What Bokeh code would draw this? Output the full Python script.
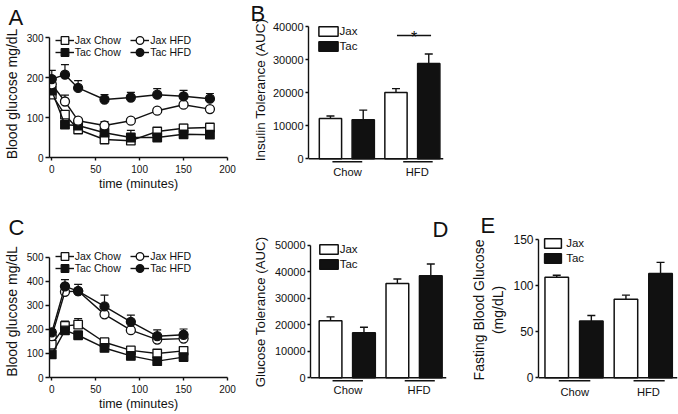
from bokeh.plotting import figure
from bokeh.layouts import column, row
from bokeh.models import (ColumnDataSource, Whisker, TeeHead, Legend, LegendItem,
                          Span, FixedTicker)
from bokeh.core.properties import value
from bokeh.embed import file_html
from bokeh.resources import INLINE

FONT = "Liberation Sans"
INK = "#111111"

# ---------------- data ----------------
# Panel A: insulin tolerance test, blood glucose (mg/dL)
itt_time = [0, 15, 30, 60, 90, 120, 150, 180]
itt_jax_chow = [157, 107, 70, 45, 42, 65, 73, 75]
itt_jax_chow_err = [5, 8, 5, 5, 5, 5, 10, 6]
itt_tac_chow = [167, 82, 80, 62, 50, 50, 58, 57]
itt_tac_chow_err = [8, 6, 6, 6, 18, 6, 5, 5]
itt_jax_hfd = [183, 140, 92, 80, 92, 117, 132, 121]
itt_jax_hfd_err = [10, 16, 6, 10, 5, 5, 5, 5]
itt_tac_hfd = [196, 207, 174, 145, 150, 157, 153, 147]
itt_tac_hfd_err = [22, 25, 18, 12, 13, 15, 15, 13]

# Panel C: glucose tolerance test, blood glucose (mg/dL)
gtt_time = [0, 15, 30, 60, 90, 120, 150]
gtt_jax_chow = [137, 215, 220, 147, 113, 100, 111]
gtt_jax_chow_err = [10, 20, 25, 8, 8, 6, 8]
gtt_tac_chow = [96, 196, 176, 123, 90, 68, 85]
gtt_tac_chow_err = [8, 10, 6, 6, 6, 6, 6]
gtt_jax_hfd = [172, 357, 360, 263, 197, 158, 162]
gtt_jax_hfd_err = [8, 10, 10, 8, 8, 8, 8]
gtt_tac_hfd = [188, 380, 360, 296, 232, 172, 178]
gtt_tac_hfd_err = [12, 28, 28, 47, 28, 26, 24]

# Bar panels: groups and strains
groups = ["Chow", "HFD"]
strains = ["Jax", "Tac"]
# B: insulin tolerance AUC
itt_auc_jax = [12200, 20000]
itt_auc_jax_err = [700, 1200]
itt_auc_tac = [11800, 28800]
itt_auc_tac_err = [2900, 2900]
# D: glucose tolerance AUC
gtt_auc_jax = [21500, 35600]
gtt_auc_jax_err = [1500, 1700]
gtt_auc_tac = [17000, 38600]
gtt_auc_tac_err = [2100, 4400]
# E: fasting blood glucose (mg/dL)
fbg_jax = [109, 85]
fbg_jax_err = [2, 4.5]
fbg_tac = [61.5, 113]
fbg_tac_err = [6, 12]

# tick values
itt_y_ticks = [0, 100, 200, 300]
gtt_y_ticks = [0, 100, 200, 300, 400, 500]
time_ticks = [0, 50, 100, 150, 200]
itt_auc_ticks = [0, 10000, 20000, 30000, 40000]
gtt_auc_ticks = [0, 10000, 20000, 30000, 40000, 50000]
fbg_ticks = [0, 50, 100, 150]


# ---------------- helpers ----------------
def make_fig(x0, y0, w, h, L, R, T, B, xr, yr):
    p = figure(width=w, height=h, x_range=xr, y_range=yr,
               output_backend="svg", toolbar_location=None,
               min_border_left=round(L - x0), min_border_right=round(x0 + w - R),
               min_border_top=round(T - y0), min_border_bottom=round(y0 + h - B))
    try:
        p.frame_align = False
    except Exception:
        pass
    p.outline_line_color = None
    p.xgrid.visible = False
    p.ygrid.visible = False
    p.background_fill_color = "white"
    p.border_fill_color = "white"
    return p


def set_letter(p, txt, align, offset, standoff):
    p.title.text = txt
    p.title.align = align
    p.title.offset = offset
    try:
        p.title.standoff = standoff
    except Exception:
        p.title.standoff = 0
    p.title.text_font = FONT
    p.title.text_font_size = "22px"
    p.title.text_font_style = "normal"
    p.title.text_color = INK


def style_axis(ax, tick_size, tick_out=4, standoff=2, label_size="13px", label_standoff=2):
    ax.axis_line_color = INK
    ax.axis_line_width = 1.4
    ax.major_tick_line_color = INK
    ax.major_tick_line_width = 1.4
    ax.major_tick_in = 0
    ax.major_tick_out = tick_out
    ax.minor_tick_line_color = None
    ax.major_label_text_font = FONT
    ax.major_label_text_font_size = tick_size
    ax.major_label_text_color = INK
    ax.major_label_standoff = standoff
    ax.axis_label_text_font = FONT
    ax.axis_label_text_font_size = label_size
    ax.axis_label_text_font_style = "normal"
    ax.axis_label_text_color = INK
    ax.axis_label_standoff = label_standoff


def add_legend(p, label, rends, box_left, center_y, L, B, gw, gh, fs, lst):
    leg = Legend(items=[LegendItem(label=label, renderers=rends)],
                 location=(box_left - L, B - (center_y + gh / 2)),
                 orientation="vertical", background_fill_alpha=0, border_line_color=None,
                 padding=0, margin=0, spacing=0, glyph_width=gw, glyph_height=gh,
                 label_height=gh, label_standoff=lst,
                 label_text_font=FONT, label_text_font_size=fs, label_text_color=INK)
    p.add_layout(leg)


def series(p, t, y, err, marker, fill, size):
    src = ColumnDataSource(dict(x=t, y=y, lower=y, upper=[a + b for a, b in zip(y, err)]))
    w = Whisker(base="x", lower="lower", upper="upper", source=src,
                line_color=INK, line_width=1.2, lower_head=None,
                upper_head=TeeHead(size=8, line_color=INK, line_width=1.2),
                level="underlay")
    p.add_layout(w)
    l = p.line("x", "y", source=src, line_color=INK, line_width=1.4)
    s = p.scatter("x", "y", source=src, marker=marker, size=size,
                  fill_color=fill, line_color=INK, line_width=1.3)
    return [l, s]


def line_panel(geom, yr, ybounds, yticks, t, data, ylabel, ltr, leg_rows):
    x0, y0, w, h, L, R, T, B = geom
    p = make_fig(x0, y0, w, h, L, R, T, B, (-2.6, 200), yr)
    p.xaxis.ticker = FixedTicker(ticks=time_ticks)
    p.yaxis.ticker = FixedTicker(ticks=yticks)
    p.yaxis.bounds = ybounds
    p.xaxis.axis_label = "time (minutes)"
    p.yaxis.axis_label = ylabel
    style_axis(p.xaxis[0], "10px", tick_out=3, standoff=4, label_size="12.5px", label_standoff=1)
    style_axis(p.yaxis[0], "10px", tick_out=4, standoff=2, label_size="14px", label_standoff=4)
    (jc, jce), (tc, tce), (jh, jhe), (th, the) = data
    r_jc = series(p, t, jc, jce, "square", "white", 8.5)
    r_tc = series(p, t, tc, tce, "square", INK, 8.5)
    r_jh = series(p, t, jh, jhe, "circle", "white", 9)
    r_th = series(p, t, th, the, "circle", INK, 9)
    c1, c2 = leg_rows
    add_legend(p, "Jax Chow", r_jc, 49, c1, L, B, 19, 20, "10.5px", 1)
    add_legend(p, "Tac Chow", r_tc, 49, c2, L, B, 19, 20, "10.5px", 1)
    add_legend(p, "Jax HFD", r_jh, 124.5, c1, L, B, 19, 20, "10.5px", 1)
    add_legend(p, "Tac HFD", r_th, 124.5, c2, L, B, 19, 20, "10.5px", 1)
    set_letter(p, *ltr)
    return p


def bar_panel(geom, xr, yr, ybounds, yticks, jax, jax_err, tac, tac_err,
              ylabel, tick_size, label_size, label_standoff, underline_y, ltr, leg_geom,
              group_standoff):
    x0, y0, w, h, L, R, T, B = geom
    p = make_fig(x0, y0, w, h, L, R, T, B, xr, yr)
    jx = [2 * i + 1 for i in range(len(groups))]
    tx = [2 * i + 2 for i in range(len(groups))]
    rj = p.vbar(x=jx, top=jax, bottom=0, width=0.68, fill_color="white",
                line_color=INK, line_width=1.5)
    rt = p.vbar(x=tx, top=tac, bottom=0, width=0.68, fill_color=INK,
                line_color=INK, line_width=1.5)
    for xs, ys, es in ((jx, jax, jax_err), (tx, tac, tac_err)):
        src = ColumnDataSource(dict(x=xs, lower=ys, upper=[a + b for a, b in zip(ys, es)]))
        p.add_layout(Whisker(base="x", lower="lower", upper="upper", source=src,
                             line_color=INK, line_width=1.4, lower_head=None,
                             upper_head=TeeHead(size=8, line_color=INK, line_width=1.4)))
    # x axis line at zero
    p.add_layout(Span(location=0, dimension="width", line_color=INK, line_width=1.5))
    # group underlines
    p.segment(x0=[1.06, 3.22], y0=[underline_y, underline_y], x1=[1.97, 4.12],
              y1=[underline_y, underline_y], line_color=INK, line_width=1.5)
    # y axis
    p.yaxis.ticker = FixedTicker(ticks=yticks)
    p.yaxis.bounds = ybounds
    p.yaxis.axis_label = ylabel
    style_axis(p.yaxis[0], tick_size, tick_out=3, standoff=2, label_size=label_size,
               label_standoff=label_standoff)
    # group labels
    gpos = [1.52, 3.65]
    p.xaxis.ticker = FixedTicker(ticks=gpos)
    p.xaxis.major_label_overrides = {gpos[i]: groups[i] for i in range(len(groups))}
    style_axis(p.xaxis[0], "11.2px", tick_out=0, standoff=group_standoff)
    p.xaxis.axis_line_color = None
    p.xaxis.major_tick_line_color = None
    gw, box_left, c1, c2, lst = leg_geom
    add_legend(p, strains[0], [rj], box_left, c1, L, B, gw, 12, "11.5px", lst)
    add_legend(p, strains[1], [rt], box_left, c2, L, B, gw, 12, "11.5px", lst)
    set_letter(p, *ltr)
    return p


# ---------------- panels ----------------
pA = line_panel((0, 0, 240, 205, 43.3, 226.7, 30, 157.3), (0, 317.5), (0, 300),
                itt_y_ticks, itt_time,
                [(itt_jax_chow, itt_jax_chow_err), (itt_tac_chow, itt_tac_chow_err),
                 (itt_jax_hfd, itt_jax_hfd_err), (itt_tac_hfd, itt_tac_hfd_err)],
                "Blood glucose mg/dL", ("A", "left", -41, 1), (40, 52))

pC = line_panel((0, 205, 240, 209, 43.3, 226.7, 245, 377.3), (0, 549.9), (0, 500),
                gtt_y_ticks, gtt_time,
                [(gtt_jax_chow, gtt_jax_chow_err), (gtt_tac_chow, gtt_tac_chow_err),
                 (gtt_jax_hfd, gtt_jax_hfd_err), (gtt_tac_hfd, gtt_tac_hfd_err)],
                "Blood glucose mg/dL", ("C", "left", -41, 11), (256.7, 268.3))

pB = bar_panel((240, 0, 220, 205, 308, 443.3, 16, 162.5), (0.33, 4.45), (-1458, 43037),
               (0, 40000), itt_auc_ticks, itt_auc_jax, itt_auc_jax_err, itt_auc_tac,
               itt_auc_tac_err, "Insulin Tolerance (AUC)", "11px", "13.5px", 2, -910,
               ("B", "left", -58, -18), (24, 315.6, 30.5, 45, 0), 2)
# significance marker (HFD: Jax vs Tac)
sig_x = [3.03, 4.07]
sig_y = 37300
pB.segment(x0=[sig_x[0]], y0=[sig_y], x1=[sig_x[1]], y1=[sig_y], line_color=INK, line_width=1.4)
pB.text(x=[sum(sig_x) / 2], y=[36740], text=["*"], text_font=value(FONT),
        text_font_size="16px", text_align="center", text_baseline="alphabetic",
        text_color=INK)

pD = bar_panel((240, 205, 215, 209, 310, 445.7, 241, 382.5), (0.4, 4.47), (-1809, 51507),
               (0, 50000), gtt_auc_ticks, gtt_auc_jax, gtt_auc_jax_err, gtt_auc_tac,
               gtt_auc_tac_err, "Glucose Tolerance (AUC)", "11px", "13.3px", 4, -1130,
               ("D", "right", -2, -1), (23, 316.7, 249, 264, 0), 1)

pE = bar_panel((455, 205, 223, 209, 537.7, 677, 236.5, 382.5), (0.473, 4.49), (-5.2, 152),
               (0, 150), fbg_ticks, fbg_jax, fbg_jax_err, fbg_tac, fbg_tac_err,
               "Fasting Blood Glucose\n(mg/dL)", "12px", "14px", 4, -3.2,
               ("E", "left", -58, 0), (21, 541.9, 243, 258, 3), 3)

layout = column(row(pA, pB), row(pC, pD, pE))
open("out.html", "w").write(file_html(layout, INLINE))
